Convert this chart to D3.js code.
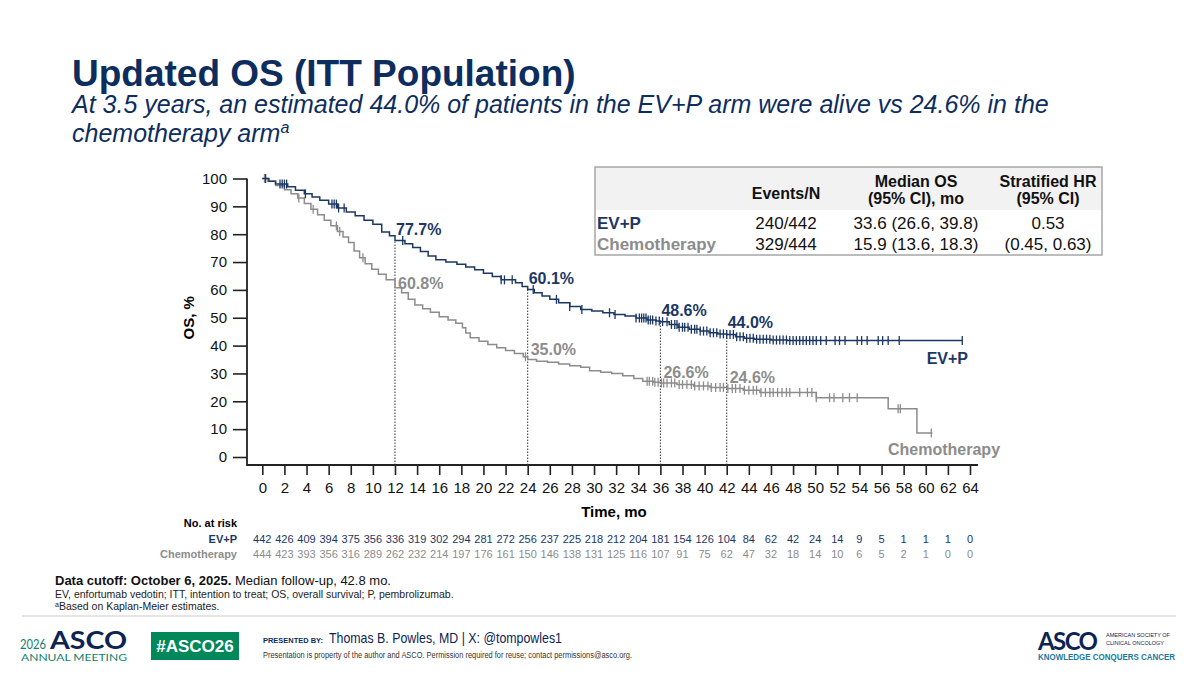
<!DOCTYPE html>
<html>
<head>
<meta charset="utf-8">
<script src="https://cdn.jsdelivr.net/npm/d3@7"></script>
<style>
  body { margin: 0; background: #fff; }
  svg { display: block; font-family: "Liberation Sans", Arial, sans-serif; }
</style>
</head>
<body>
<div id="chart"></div>
<script>
// ---- data ----
const evpTime = [0, 0.6, 1.2, 2.3, 3.0, 3.8, 4.5, 5.2, 6.0, 6.8, 7.6, 8.4, 9.2, 10.0, 10.8, 11.5, 12.0, 12.9, 13.6, 14.3, 15.0, 15.7, 16.6, 17.6, 18.4, 19.2, 20.0, 20.8, 21.6, 22.9, 23.5, 24.0, 24.6, 25.3, 26.0, 26.8, 27.8, 28.8, 29.8, 30.8, 31.8, 32.8, 33.8, 34.8, 35.6, 36.0, 36.8, 37.6, 38.6, 39.6, 40.4, 41.2, 42.0, 42.8, 43.6, 44.5, 46.0, 47.5];
const evpSurv = [100, 99, 98, 97, 95.8, 94.5, 93.4, 92.2, 90.8, 89.4, 88, 86.6, 85, 83.6, 80.8, 79.4, 77.7, 76.6, 75.2, 73.8, 72.2, 70.8, 70.0, 69.2, 68.2, 67.2, 66, 64.8, 63.6, 62.6, 61.2, 60.1, 59, 57.8, 56.6, 55.4, 54.0, 53.0, 52.4, 51.8, 51.2, 50.6, 49.9, 49.2, 48.8, 48.6, 47.6, 46.6, 45.9, 45.2, 44.6, 44.2, 44.0, 43.2, 42.6, 42.3, 42.0, 41.8];
const evpEnd = 63.3;
const evpCensor = [0.3, 1.6, 1.8, 2.0, 2.2, 3.9, 6.3, 6.5, 6.7, 6.9, 7.4, 12.7, 21.6, 21.9, 22.6, 24.5, 26.6, 27.8, 28.9, 31.4, 31.9, 33.8, 34.1, 34.3, 34.5, 34.7, 34.9, 35.1, 35.3, 35.6, 35.9, 36.2, 36.6, 37.0, 37.3, 37.5, 37.7, 38.0, 38.2, 38.5, 38.8, 39.1, 39.3, 39.6, 39.9, 40.2, 40.5, 40.8, 41.1, 41.4, 41.7, 42.0, 42.3, 42.6, 42.9, 43.2, 43.5, 43.8, 44.1, 44.4, 44.7, 45.0, 45.3, 45.6, 45.9, 46.2, 46.5, 46.8, 47.1, 47.4, 47.7, 48.0, 48.3, 48.6, 48.9, 49.2, 49.5, 49.8, 50.1, 50.5, 51.0, 51.8, 52.2, 52.7, 53.8, 54.2, 54.7, 55.7, 56.1, 56.6, 57.6, 63.3];

const chemoTime = [0, 0.5, 1.2, 2.0, 2.6, 3.2, 3.8, 4.4, 5.0, 5.6, 6.2, 6.8, 7.3, 7.8, 8.3, 8.8, 9.3, 9.9, 10.5, 11.2, 12.0, 12.6, 13.2, 13.8, 14.5, 15.2, 16.0, 16.8, 17.5, 18.1, 18.4, 18.8, 19.6, 20.4, 21.2, 22.0, 22.8, 23.6, 24.0, 24.8, 25.8, 26.8, 27.8, 28.8, 29.6, 30.6, 31.6, 32.6, 33.6, 34.4, 35.4, 36.0, 37.5, 39.0, 40.5, 42.0, 43.5, 45.0, 50.1, 56.6, 59.2];
const chemoSurv = [100, 99, 97.5, 96, 94.5, 93, 91, 89, 87, 85, 83, 81, 79, 77, 74, 71.5, 69.4, 67.4, 65.6, 63.6, 60.8, 59, 56.6, 54.6, 53.2, 52, 50.4, 49.2, 48, 46.4, 44.5, 42.8, 41.6, 40.4, 39.2, 38.2, 37.2, 36, 35.0, 34.4, 34, 33.4, 32.8, 32.2, 31.0, 30.4, 30.0, 29.2, 28.2, 27.2, 26.8, 26.6, 26.0, 25.5, 25.0, 24.6, 24.0, 23.2, 21.3, 17.3, 8.6];
const chemoEnd = 60.6;
const chemoCensor = [0.2, 3.3, 4.6, 6.7, 7.0, 9.1, 23.8, 34.8, 35.0, 35.3, 35.5, 35.8, 36.1, 36.3, 36.6, 37.0, 37.3, 37.7, 38.0, 38.4, 38.8, 39.1, 39.5, 39.9, 40.3, 40.6, 41.0, 41.4, 41.7, 42.1, 42.5, 42.8, 43.2, 43.6, 44.0, 44.4, 44.7, 45.1, 45.5, 45.9, 46.2, 46.6, 47.0, 47.4, 47.7, 48.6, 49.3, 49.7, 50.1, 51.3, 51.7, 52.5, 53.1, 53.8, 57.5, 57.7, 60.5];

const landmarkTimes = [12, 24, 36, 42];
const evpLandmark = [77.7, 60.1, 48.6, 44.0];
const chemoLandmark = [60.8, 35.0, 26.6, 24.6];

const xTicks = d3.range(0, 65, 2);
const yTicks = d3.range(0, 101, 10);
const evpRisk = [442, 426, 409, 394, 375, 356, 336, 319, 302, 294, 281, 272, 256, 237, 225, 218, 212, 204, 181, 154, 126, 104, 84, 62, 42, 24, 14, 9, 5, 1, 1, 1, 0];
const chemoRisk = [444, 423, 393, 356, 316, 289, 262, 232, 214, 197, 176, 161, 150, 146, 138, 131, 125, 116, 107, 91, 75, 62, 47, 32, 18, 14, 10, 6, 5, 2, 1, 0, 0];

const tableCols = ["Events/N", "Median OS|(95% CI), mo", "Stratified HR|(95% CI)"];
const tableArms = ["EV+P", "Chemotherapy"];
const tableEvents = ["240/442", "329/444"];
const tableMedian = ["33.6 (26.6, 39.8)", "15.9 (13.6, 18.3)"];
const tableHR = ["0.53", "(0.45, 0.63)"];

// ---- styles ----
const navy = "#0d2d5e", evpCol = "#1c3764", chemoCol = "#8c8c8c";

const svg = d3.select("#chart").append("svg")
    .attr("width", 1200)
    .attr("height", 675);

// title
svg.append("text").attr("x", 72).attr("y", 86)
    .attr("fill", navy).attr("font-size", 37).attr("font-weight", "bold")
    .text("Updated OS (ITT Population)");
const sub = svg.append("text").attr("fill", navy).attr("font-size", 25).attr("font-style", "italic");
sub.append("tspan").attr("x", 72).attr("y", 113)
    .text("At 3.5 years, an estimated 44.0% of patients in the EV+P arm were alive vs 24.6% in the");
sub.append("tspan").attr("x", 72).attr("y", 142).text("chemotherapy arm");
sub.append("tspan").attr("font-size", 16).attr("dy", -9).text("a");

// scales
const x = d3.scaleLinear().domain([0, 64]).range([262.3, 970]);
const y = d3.scaleLinear().domain([0, 100]).range([457, 178.5]);
const axisY = 465, axisX = 247;

// axes
const yAxis = svg.append("g")
    .attr("transform", "translate(" + axisX + ",0)")
    .call(d3.axisLeft(y).tickValues(yTicks).tickSize(14).tickSizeOuter(0).tickPadding(6));
const xAxis = svg.append("g")
    .attr("transform", "translate(0," + axisY + ")")
    .call(d3.axisBottom(x).tickValues(xTicks).tickSize(10).tickSizeOuter(0).tickPadding(7));
[yAxis, xAxis].forEach((g) => {
    g.select(".domain").remove();
    g.selectAll("line").attr("stroke", "#222").attr("stroke-width", 1.6);
    g.selectAll("text").attr("font-size", 15).attr("fill", "#111")
        .attr("font-family", "'Liberation Sans', Arial, sans-serif");
});
svg.append("path")
    .attr("d", "M" + axisX + "," + y(100) + "V" + axisY + "H978")
    .attr("fill", "none").attr("stroke", "#222").attr("stroke-width", 1.8);

svg.append("text")
    .attr("transform", "translate(194," + y(50) + ") rotate(-90)")
    .attr("text-anchor", "middle").attr("font-size", 15).attr("font-weight", "bold")
    .text("OS, %");
svg.append("text").attr("x", 614).attr("y", 517)
    .attr("text-anchor", "middle").attr("font-size", 15).attr("font-weight", "bold")
    .text("Time, mo");

// landmark dotted lines
svg.selectAll(".landmark")
    .data(landmarkTimes)
    .join("line")
    .attr("class", "landmark")
    .attr("x1", (d) => x(d)).attr("x2", (d) => x(d))
    .attr("y1", axisY).attr("y2", (d, i) => y(evpLandmark[i]))
    .attr("stroke", "#333").attr("stroke-width", 1)
    .attr("stroke-dasharray", "1.5,1.5");

// KM curves
function survAt(times, surv, t) {
    const i = d3.bisectRight(times, t) - 1;
    return surv[Math.max(0, i)];
}
const line = d3.line()
    .x((d) => x(d[0]))
    .y((d) => y(d[1]))
    .curve(d3.curveStepAfter);

const arms = [
    { times: evpTime, surv: evpSurv, end: evpEnd, censor: evpCensor, color: evpCol },
    { times: chemoTime, surv: chemoSurv, end: chemoEnd, censor: chemoCensor, color: chemoCol }
];
arms.slice().reverse().forEach((arm) => {
    const pts = arm.times.map((t, i) => [t, arm.surv[i]]);
    pts.push([arm.end, arm.surv[arm.surv.length - 1]]);
    svg.append("path")
        .datum(pts)
        .attr("d", line)
        .attr("fill", "none")
        .attr("stroke", arm.color)
        .attr("stroke-width", 1.5);
    svg.append("g").selectAll("line")
        .data(arm.censor)
        .join("line")
        .attr("x1", (d) => x(d)).attr("x2", (d) => x(d))
        .attr("y1", (d) => y(survAt(arm.times, arm.surv, d)) - 4.5)
        .attr("y2", (d) => y(survAt(arm.times, arm.surv, d)) + 4.5)
        .attr("stroke", arm.color)
        .attr("stroke-width", 1.3);
});

// landmark labels
svg.selectAll(".evpLab")
    .data(evpLandmark)
    .join("text")
    .attr("class", "evpLab")
    .attr("x", (d, i) => x(landmarkTimes[i]) + 1)
    .attr("y", (d) => y(d) - 6)
    .attr("font-size", 16).attr("font-weight", "bold").attr("fill", evpCol)
    .text((d) => d.toFixed(1) + "%");
svg.selectAll(".chemoLab")
    .data(chemoLandmark)
    .join("text")
    .attr("class", "chemoLab")
    .attr("x", (d, i) => x(landmarkTimes[i]) + 3)
    .attr("y", (d, i) => y(d) - (i === 0 ? -1 : 5))
    .attr("font-size", 16).attr("font-weight", "bold").attr("fill", chemoCol)
    .text((d) => d.toFixed(1) + "%");

// curve names
svg.append("text").attr("x", 968).attr("y", 364).attr("text-anchor", "end")
    .attr("font-size", 16).attr("font-weight", "bold").attr("fill", evpCol).text("EV+P");
svg.append("text").attr("x", 888).attr("y", 455)
    .attr("font-size", 16).attr("font-weight", "bold").attr("fill", chemoCol).text("Chemotherapy");

// number at risk
svg.append("text").attr("x", 237).attr("y", 527).attr("text-anchor", "end")
    .attr("font-size", 11).attr("font-weight", "bold").text("No. at risk");
[{ name: "EV+P", risk: evpRisk, color: evpCol, yy: 543 },
 { name: "Chemotherapy", risk: chemoRisk, color: chemoCol, yy: 558 }].forEach((r) => {
    svg.append("text").attr("x", 237).attr("y", r.yy).attr("text-anchor", "end")
        .attr("font-size", 11).attr("font-weight", "bold").attr("fill", r.color).text(r.name);
    svg.append("g").selectAll("text")
        .data(r.risk)
        .join("text")
        .attr("x", (d, i) => x(xTicks[i]))
        .attr("y", r.yy)
        .attr("text-anchor", "middle")
        .attr("font-size", 11).attr("fill", r.color)
        .text((d) => d);
});

// summary table
const tb = svg.append("g");
tb.append("rect").attr("x", 595).attr("y", 167).attr("width", 507).attr("height", 43).attr("fill", "#f2f2f2");
tb.append("rect").attr("x", 595).attr("y", 167).attr("width", 507).attr("height", 88)
    .attr("fill", "none").attr("stroke", "#a6a6a6").attr("stroke-width", 1.5);
const colX = [786, 916, 1048];
tableCols.forEach((c, i) => {
    const parts = c.split("|");
    parts.forEach((p, j) => {
        tb.append("text")
            .attr("x", colX[i])
            .attr("y", parts.length === 1 ? 199 : 187 + j * 17)
            .attr("text-anchor", "middle").attr("font-size", 16).attr("font-weight", "bold")
            .attr("fill", "#111").text(p);
    });
});
tableArms.forEach((a, i) => {
    const yy = 229 + i * 21;
    tb.append("text").attr("x", 597).attr("y", yy).attr("font-size", 17).attr("font-weight", "bold")
        .attr("fill", i === 0 ? evpCol : chemoCol).text(a);
    tb.append("text").attr("x", colX[0]).attr("y", yy).attr("text-anchor", "middle")
        .attr("font-size", 17).attr("fill", "#111").text(tableEvents[i]);
    tb.append("text").attr("x", colX[1]).attr("y", yy).attr("text-anchor", "middle")
        .attr("font-size", 17).attr("fill", "#111").text(tableMedian[i]);
    tb.append("text").attr("x", colX[2]).attr("y", yy).attr("text-anchor", "middle")
        .attr("font-size", 17).attr("fill", "#111").text(tableHR[i]);
});

// footnotes
const fn = svg.append("text").attr("x", 55).attr("y", 585).attr("font-size", 13).attr("fill", "#111");
fn.append("tspan").attr("font-weight", "bold").text("Data cutoff: October 6, 2025.");
fn.append("tspan").text(" Median follow-up, 42.8 mo.");
svg.append("text").attr("x", 55).attr("y", 598).attr("font-size", 10.5).attr("fill", "#222")
    .text("EV, enfortumab vedotin; ITT, intention to treat; OS, overall survival; P, pembrolizumab.");
const fn2 = svg.append("text").attr("x", 55).attr("y", 610).attr("font-size", 10.5).attr("fill", "#222");
fn2.append("tspan").attr("font-size", 7).attr("dy", -3).text("a");
fn2.append("tspan").attr("dy", 3).text("Based on Kaplan-Meier estimates.");

svg.append("line").attr("x1", 22).attr("x2", 1176).attr("y1", 616).attr("y2", 616)
    .attr("stroke", "#dcdcdc").attr("stroke-width", 1.5);

// footer: meeting logo, hashtag, presenter, society logo
const teal = "#127f6e", logoNavy = "#0d2452", logoFont = "Lato, 'Open Sans', sans-serif";
svg.append("text").attr("x", 20).attr("y", 649).attr("font-size", 13).attr("fill", teal)
    .attr("font-family", logoFont).attr("textLength", 26).attr("lengthAdjust", "spacingAndGlyphs").text("2026");
svg.append("text").attr("x", 50).attr("y", 649).attr("font-size", 25).attr("font-weight", "bold")
    .attr("fill", logoNavy).attr("font-family", logoFont)
    .attr("textLength", 77).attr("lengthAdjust", "spacingAndGlyphs").text("ASCO");
svg.append("text").attr("x", 21).attr("y", 661).attr("font-size", 9.5).attr("fill", teal)
    .attr("font-family", logoFont).attr("textLength", 106).attr("lengthAdjust", "spacingAndGlyphs").text("ANNUAL MEETING");
svg.append("rect").attr("x", 151).attr("y", 632).attr("width", 88).attr("height", 28).attr("fill", "#00875a");
svg.append("text").attr("x", 195).attr("y", 652).attr("text-anchor", "middle").attr("font-size", 17)
    .attr("font-weight", "bold").attr("fill", "#fff").text("#ASCO26");
svg.append("text").attr("x", 263).attr("y", 643).attr("font-size", 8).attr("font-weight", "bold")
    .attr("fill", navy).attr("textLength", 60).attr("lengthAdjust", "spacingAndGlyphs").text("PRESENTED BY:");
svg.append("text").attr("x", 329).attr("y", 643).attr("font-size", 15).attr("fill", logoNavy)
    .attr("textLength", 233).attr("lengthAdjust", "spacingAndGlyphs")
    .text("Thomas B. Powles, MD | X: @tompowles1");
svg.append("text").attr("x", 263).attr("y", 658).attr("font-size", 8.3).attr("fill", "#333")
    .attr("textLength", 369).attr("lengthAdjust", "spacingAndGlyphs")
    .text("Presentation is property of the author and ASCO. Permission required for reuse; contact permissions@asco.org.");

svg.append("text").attr("x", 1038).attr("y", 650).attr("font-size", 24).attr("font-weight", "bold")
    .attr("fill", logoNavy).attr("font-family", logoFont).attr("textLength", 60).text("ASCO");
svg.append("text").attr("x", 1106).attr("y", 637).attr("font-size", 6).attr("fill", logoNavy)
    .attr("textLength", 64).attr("lengthAdjust", "spacingAndGlyphs").text("AMERICAN SOCIETY OF");
svg.append("text").attr("x", 1106).attr("y", 645).attr("font-size", 6).attr("fill", logoNavy)
    .attr("textLength", 58).attr("lengthAdjust", "spacingAndGlyphs").text("CLINICAL ONCOLOGY");
svg.append("text").attr("x", 1038).attr("y", 660).attr("font-size", 8.2).attr("font-weight", "bold")
    .attr("fill", "#1a7a9c").attr("textLength", 137).attr("lengthAdjust", "spacingAndGlyphs")
    .text("KNOWLEDGE CONQUERS CANCER");
</script>
</body>
</html>
